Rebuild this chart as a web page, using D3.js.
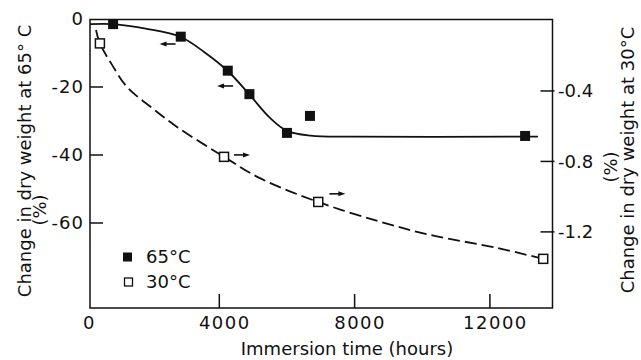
<!DOCTYPE html>
<html>
<head>
<meta charset="utf-8">
<script src="https://cdn.jsdelivr.net/npm/d3@7"></script>
<style>
  html, body { margin: 0; padding: 0; background: #fff; }
  svg { display: block; }
  text { font-family: "DejaVu Sans", sans-serif; fill: #111; }
</style>
</head>
<body>
<svg id="chart" width="641" height="360"></svg>
<script>
// ---------- data ----------
// 65 °C : filled squares, left axis (% change)
const hours65 = [860, 2860, 4250, 4890, 6000, 6680, 13040];
const change65 = [-1.5, -5.2, -15.2, -22.1, -33.5, -28.5, -34.4];
// 30 °C : open squares, right axis (% change)
const hours30 = [470, 4140, 6925, 13575];
const change30 = [-0.13, -0.774, -1.03, -1.353];
// hand-drawn fitted curves (knots)
const curve65Hours = [180, 860, 1860, 2860, 3550, 4250, 4880, 5500, 6000, 6700, 7900, 13040, 13420];
const curve65Vals  = [-1.5, -1.5, -2.9, -5.3, -9.7, -15.3, -22.1, -29.1, -32.9, -34.3, -34.6, -34.6, -34.6];
const curve30Hours = [355, 470, 830, 1270, 2010, 2750, 4140, 5200, 6920, 8750, 10230, 12210, 13575];
const curve30Vals  = [-0.054, -0.13, -0.252, -0.377, -0.496, -0.604, -0.774, -0.895, -1.03, -1.142, -1.217, -1.291, -1.353];
// axis arrows (which axis a curve belongs to)
const arrowHours = [2470, 4170, 4670, 7490];
const arrowVals  = [-7.35, -19.7, -0.763, -0.984];
const arrowAxis  = ["left", "left", "right", "right"];
const arrowDir   = [-1, -1, 1, 1];
// ticks
const xTicks = [0, 4000, 8000, 12000];
const yLeftTicks = [0, -20, -40, -60];
const yRightTicks = [-0.4, -0.8, -1.2];
const legendLabels = ["65°C", "30°C"];

// ---------- layout ----------
const svg = d3.select("#chart");
const pLeft = 90, pRight = 552.5, pTop = 19.5, pBottom = 308;
const x = d3.scaleLinear().domain([0, 13850]).range([84, pRight]);
const yL = d3.scaleLinear().domain([0, -85]).range([19, pBottom]);
const yR = d3.scaleLinear().domain([0, -1.632]).range([20.5, pBottom]);
const FS = 18;

// frame
svg.append("rect")
  .attr("x", pLeft).attr("y", pTop)
  .attr("width", pRight - pLeft).attr("height", pBottom - pTop)
  .attr("fill", "none").attr("stroke", "#111").attr("stroke-width", 1.5);

// bottom ticks (inward) and labels
const gx = svg.append("g");
xTicks.forEach(v => {
  if (v > 0) {
    gx.append("line").attr("x1", x(v)).attr("x2", x(v))
      .attr("y1", pBottom).attr("y2", pBottom - 14)
      .attr("stroke", "#111").attr("stroke-width", 1.5);
  }
  gx.append("text").attr("x", x(v) + 5.5).attr("y", 328.5)
    .attr("text-anchor", "middle").attr("font-size", FS)
    .attr("letter-spacing", 1.5)
    .text(d3.format("d")(v));
});
svg.append("text").attr("x", 347).attr("y", 355)
  .attr("text-anchor", "middle").attr("font-size", FS)
  .text("Immersion time (hours)");

// left ticks
yLeftTicks.forEach(v => {
  if (v < 0) {
    svg.append("line").attr("x1", pLeft).attr("x2", pLeft + 13)
      .attr("y1", yL(v)).attr("y2", yL(v))
      .attr("stroke", "#111").attr("stroke-width", 1.5);
  }
  svg.append("text").attr("x", 84).attr("y", yL(v))
    .attr("dy", "0.36em").attr("text-anchor", "end")
    .attr("font-size", FS).attr("letter-spacing", 1)
    .text(v === 0 ? "0" : "-" + Math.abs(v));
});
// right ticks
yRightTicks.forEach(v => {
  svg.append("line").attr("x1", pRight - 12).attr("x2", pRight + 2)
    .attr("y1", yR(v)).attr("y2", yR(v))
    .attr("stroke", "#111").attr("stroke-width", 1.5);
  svg.append("text").attr("x", 558).attr("y", yR(v))
    .attr("dy", "0.36em").attr("text-anchor", "start")
    .attr("font-size", FS)
    .text("-" + d3.format(".1f")(Math.abs(v)));
});

// axis titles
svg.append("text").attr("transform", "translate(31,161) rotate(-90)")
  .attr("text-anchor", "middle").attr("font-size", FS)
  .text("Change in dry weight at 65° C");
svg.append("text").attr("transform", "translate(46,210) rotate(-90)")
  .attr("text-anchor", "middle").attr("font-size", FS)
  .text("(%)");
svg.append("text").attr("transform", "translate(634,160) rotate(-90)")
  .attr("text-anchor", "middle").attr("font-size", FS)
  .text("Change in dry weight at 30°C");
svg.append("text").attr("transform", "translate(617,167) rotate(-90)")
  .attr("text-anchor", "middle").attr("font-size", FS)
  .text("(%)");

// curves
const line65 = d3.line().curve(d3.curveCatmullRom.alpha(0.5))
  .x(d => x(d[0])).y(d => yL(d[1]));
const line30 = d3.line().curve(d3.curveCatmullRom.alpha(0.5))
  .x(d => x(d[0])).y(d => yR(d[1]));
svg.append("path").datum(d3.zip(curve65Hours, curve65Vals))
  .attr("d", line65).attr("fill", "none")
  .attr("stroke", "#111").attr("stroke-width", 1.8);
svg.append("path").datum(d3.zip(curve30Hours, curve30Vals))
  .attr("d", line30).attr("fill", "none")
  .attr("stroke", "#111").attr("stroke-width", 1.8)
  .attr("stroke-dasharray", "12,5");

// markers
const S = 10;
svg.append("g").selectAll("rect").data(d3.zip(hours65, change65)).join("rect")
  .attr("x", d => x(d[0]) - S / 2).attr("y", d => yL(d[1]) - S / 2)
  .attr("width", S).attr("height", S).attr("fill", "#111");
const So = 9;
svg.append("g").selectAll("rect").data(d3.zip(hours30, change30)).join("rect")
  .attr("x", d => x(d[0]) - So / 2).attr("y", d => yR(d[1]) - So / 2)
  .attr("width", So).attr("height", So)
  .attr("fill", "#fff").attr("stroke", "#111").attr("stroke-width", 1.5);

// arrows
arrowHours.forEach((h, i) => {
  const cx = x(h);
  const cy = arrowAxis[i] === "left" ? yL(arrowVals[i]) : yR(arrowVals[i]);
  const d = arrowDir[i];
  const len = 16;
  svg.append("line").attr("x1", cx - d * len / 2).attr("x2", cx + d * len / 2 - d * 5)
    .attr("y1", cy).attr("y2", cy).attr("stroke", "#111").attr("stroke-width", 1.6);
  const tip = cx + d * len / 2;
  svg.append("path")
    .attr("d", `M${tip},${cy} L${tip - d * 7},${cy - 2.5} L${tip - d * 7},${cy + 2.5} Z`)
    .attr("fill", "#111");
});

// legend
const legY = [257, 282];
legendLabels.forEach((lab, i) => {
  if (i === 0) {
    svg.append("rect").attr("x", 123).attr("y", legY[i] - 4.5)
      .attr("width", 9).attr("height", 9).attr("fill", "#111");
  } else {
    svg.append("rect").attr("x", 124.5).attr("y", legY[i] - 4)
      .attr("width", 8).attr("height", 8)
      .attr("fill", "#fff").attr("stroke", "#111").attr("stroke-width", 1.3);
  }
  svg.append("text").attr("x", 146).attr("y", legY[i]).attr("dy", "0.36em")
    .attr("font-size", FS).text(lab);
});
</script>
</body>
</html>
